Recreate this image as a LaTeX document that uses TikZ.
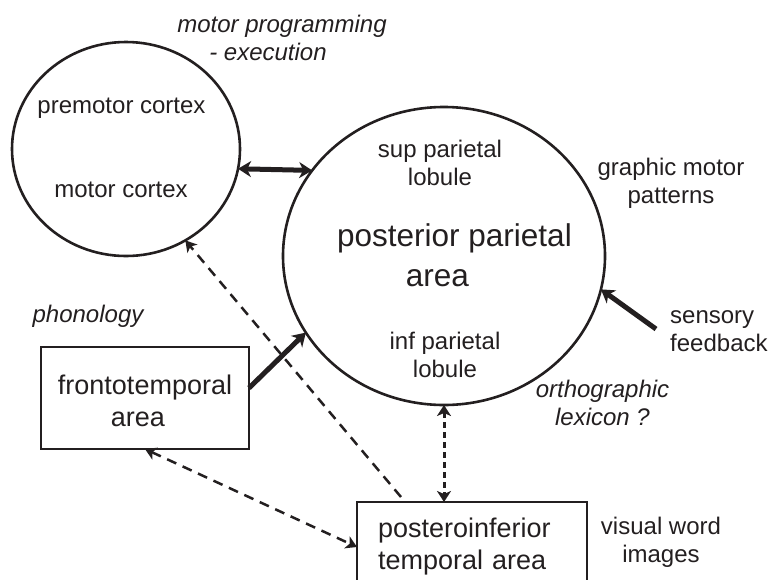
\documentclass[tikz,border=0pt]{standalone}
\usepackage{fontspec}
\setmainfont{Liberation Sans}
\usetikzlibrary{arrows.meta,shapes.geometric}
\definecolor{ink}{HTML}{231F20}

\begin{document}
\begin{tikzpicture}[x=1pt,y=-1pt,
  lbl/.style={inner sep=0pt, text=ink, align=center, font=\fontsize{24}{28}\selectfont},
  lbli/.style={lbl, font=\fontsize{24}{28}\selectfont\itshape},
  region/.style={draw=ink, line width=2.6pt, ellipse, inner sep=0pt, outer sep=0pt},
  boxreg/.style={draw=ink, line width=2.6pt, rectangle, inner sep=0pt, outer sep=0pt,
    text=ink, font=\fontsize{27}{32}\selectfont},
  bigtip/.style={},
  bigarrow/.style={draw=ink, line width=5pt, -{Stealth[length=13pt,width=16pt,inset=4pt]}},
  bigdouble/.style={draw=ink, line width=5pt,
    {Stealth[length=13pt,width=16pt,inset=4pt]}-{Stealth[length=13pt,width=16pt,inset=4pt]}},
  dashlink/.style={draw=ink, line width=2.5pt, dash pattern=on 10pt off 7pt},
  dotlink/.style={draw=ink, line width=3pt, dash pattern=on 6pt off 4pt,
    {Stealth[length=11pt,width=14pt,inset=3pt]}-{Stealth[length=11pt,width=14pt,inset=3pt]}},
  smalltip/.style={-{Stealth[length=11pt,width=13pt,inset=3pt]}},
  smalltips/.style={{Stealth[length=11pt,width=13pt,inset=3pt]}-{Stealth[length=11pt,width=13pt,inset=3pt]}}
]
\useasboundingbox (0,0) rectangle (768,579);
\clip (0,0) rectangle (768,579);

% cortical regions
\node[region, minimum width=228pt, minimum height=214pt] (motor) at (126,149) {};
\node[region, minimum width=322pt, minimum height=298pt] (par) at (444,256) {};
\node[boxreg, minimum width=208pt, minimum height=102pt, align=center] (fronto) at (145,398)
  {\rule{0pt}{26pt}frontotemporal\\area\hspace*{14pt}};
\node[boxreg, minimum height=90pt, text width=188pt, inner xsep=21pt, align=left] (post) at (472,547)
  {posteroinferior\\temporal area};

% labels inside the circles
\node[lbl, anchor=base] (premotor) at (121.5,113) {premotor cortex};
\node[lbl, anchor=base] (motorc) at (121,197) {motor cortex};
\node[lbl] (sup) at (440,163.4) {sup parietal\\lobule};
\node[lbl, font=\fontsize{31.5}{40}\selectfont] (ppa) at (454.5,255.7) {posterior parietal\\area\hspace*{34pt}};
\node[lbl] (inf) at (445,355.4) {inf parietal\\lobule};

% surrounding annotations
\node[lbli] (prog) at (282,38.4) {motor programming\\- execution\hspace*{28pt}};
\node[lbl] (gmp) at (671,183.4) {graphic motor\\patterns};
\node[lbli, anchor=base] (phon) at (88,322) {phonology};
\node[lbl, align=left, anchor=west] (sensory) at (670,330.8) {sensory\\feedback};
\node[lbli] (ortho) at (602.5,403.4) {orthographic\\lexicon ?};
\node[lbl] (vwi) at (661,541.9) {visual word\\images};

% connections
\draw[bigdouble] (motor.-10) -- (par.147);
\draw[bigarrow] ([yshift=10pt]fronto.east) -- (par.209);
\coordinate (sens) at (656,329);
\draw[bigarrow] (sens) -- (par.-12);
\draw[dotlink] (par.south) -- (par.south |- post.north);
\draw[dashlink, smalltips] (fronto.south) -- (post.west);
\coordinate (fork) at (401,497);
\draw[dashlink, smalltip] (fork) -- (motor.-57);
\end{tikzpicture}
\end{document}
